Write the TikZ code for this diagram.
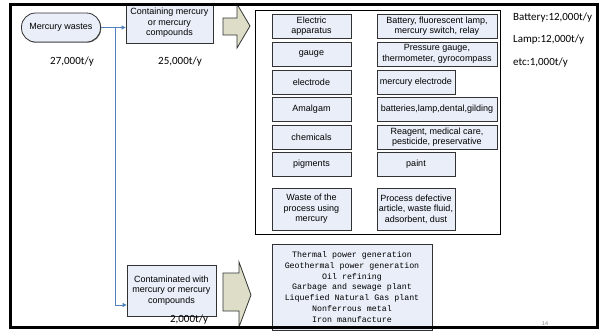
\documentclass[tikz,border=0pt]{standalone}
\usepackage{fontspec}
\setmainfont{Liberation Sans}
\newfontfamily\calib{Carlito}
\newfontfamily\monof{Liberation Mono}
\usetikzlibrary{arrows.meta,shadows}
\definecolor{boxfill}{RGB}{233,238,248}
\definecolor{arrfill}{RGB}{221,221,200}
\definecolor{linkblue}{RGB}{79,129,189}
\definecolor{edgegray}{RGB}{50,50,50}
\tikzset{
  pbox/.style={draw=edgegray, line width=0.8pt, fill=boxfill, align=center,
    inner sep=1pt, font=\fontsize{9}{10.5}\selectfont,
    drop shadow={shadow xshift=0.7pt, shadow yshift=-0.7pt, fill=black!55, opacity=1}},
  lbox/.style={pbox, minimum width=79pt},
  wbox/.style={pbox, minimum width=120pt},
  nbox/.style={pbox, minimum width=78pt},
  qty/.style={font=\calib\fontsize{11}{13}\selectfont, inner sep=0pt},
  link/.style={draw=linkblue, line width=0.9pt, -{Triangle[length=4pt,width=4pt]}},
  blockarrow/.style={draw=edgegray, line width=0.8pt, fill=arrfill},
}
\begin{document}
\begin{tikzpicture}[x=1pt,y=-1pt]
\useasboundingbox (0,0) rectangle (606,330);

% source
\node[pbox, rounded corners=14pt, minimum width=79pt, minimum height=29pt] (src) at (61,27.5) {Mercury wastes};
\node[qty] (q27) at (72,62) {27,000t/y};

\node[pbox, minimum width=87pt, minimum height=40pt] (cont) at (169.5,23) {Containing mercury\\or mercury\\compounds};
\node[qty] (q25) at (180,62) {25,000t/y};

\node[pbox, minimum width=89pt, minimum height=51pt] (cmt) at (171.5,290.5) {Contaminated with\\mercury or mercury\\compounds};
\node[qty] (q2) at (189,319.5) {2,000t/y};

\coordinate (jn) at (115,27.5);
\draw[link] (src.east) -- (cont.west |- src.east);
\draw[link] (jn) |- (cmt.west |- 0,305);

% block arrows
\draw[blockarrow] (223,18) -- (237,18) -- (237,4) -- (250,26) -- (237,48) -- (237,35) -- (223,35) -- cycle;
\draw[blockarrow] (223,273) -- (239,273) -- (239,262) -- (251,295) -- (239,327) -- (239,311) -- (223,311) -- cycle;

% container
\draw[draw=black, line width=0.9pt, fill=white, drop shadow={shadow xshift=0.8pt, shadow yshift=-0.8pt, fill=black!60, opacity=1}] (255,10) rectangle (500,234);

% left column
\node[lbox, minimum height=24pt] (l1) at (311.5,26) {Electric\\apparatus};
\node[lbox, minimum height=24pt] (l2) at (311.5,54) {gauge};
\node[lbox, minimum height=24pt] (l3) at (311.5,82) {electrode};
\node[lbox, minimum height=24pt] (l4) at (311.5,109) {Amalgam};
\node[lbox, minimum height=24pt] (l5) at (311.5,137) {chemicals};
\node[lbox, minimum height=24pt] (l6) at (311.5,164) {pigments};
\node[lbox, minimum height=42pt] (l7) at (311.5,209) {Waste of the\\process using\\mercury};

% right column
\node[wbox, minimum height=24pt] (r1) at (437,26) {Battery, fluorescent lamp,\\mercury switch, relay};
\node[wbox, minimum height=24pt] (r2) at (437,54) {Pressure gauge,\\thermometer, gyrocompass};
\node[nbox, minimum height=24pt] (r3) at (416,82) {mercury electrode};
\node[wbox, minimum height=24pt] (r4) at (437,109) {batteries,lamp,dental,gilding};
\node[wbox, minimum height=24pt] (r5) at (437,137) {Reagent, medical care,\\pesticide, preservative};
\node[nbox, minimum height=24pt] (r6) at (416,164) {paint};
\node[nbox, minimum height=42pt] (r7) at (416,209) {Process defective\\article, waste fluid,\\adsorbent, dust};

% right labels
\node[qty, anchor=west] (b1) at (513,18) {Battery:12,000t/y};
\node[qty, anchor=west] (b2) at (513,40) {Lamp:12,000t/y};
\node[qty, anchor=west] (b3) at (513,63) {etc:1,000t/y};

% bottom list
\node[draw=edgegray, line width=0.8pt, fill=boxfill, minimum width=160pt, minimum height=86pt, inner sep=0pt,
  drop shadow={shadow xshift=0.7pt, shadow yshift=-0.7pt, fill=black!55, opacity=1},
  align=center, font=\monof\fontsize{8.3}{10.7}\selectfont] (lst) at (352,287)
  {Thermal power generation\\Geothermal power generation\\Oil refining\\Garbage and sewage plant\\Liquefied Natural Gas plant\\Nonferrous metal\\Iron manufacture};

\node[font=\fontsize{5.5}{6}\selectfont, text=black!50, inner sep=0pt] (pg) at (545,323.5) {14};

% outer frame
\draw[line width=3pt] (10,4) rectangle (597,327.5);
\end{tikzpicture}
\end{document}
